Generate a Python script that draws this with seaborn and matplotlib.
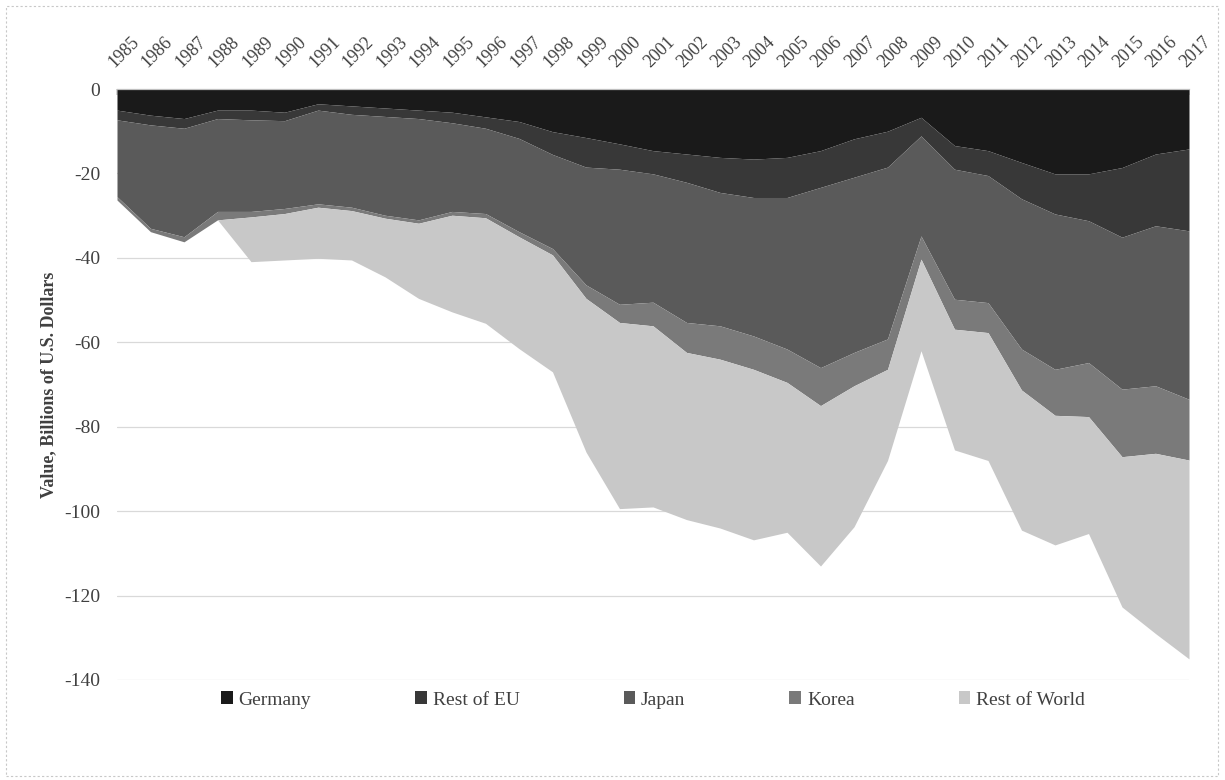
import numpy as np
import pandas as pd
import matplotlib
matplotlib.use("Agg")
import matplotlib.pyplot as plt
import seaborn as sns
from matplotlib.patches import Rectangle

years = list(range(1985, 2018))
series_names = ["Germany", "Rest of EU", "Japan", "Korea", "Rest of World"]

# billions of U.S. dollars
germany = [-5.0, -6.2, -7.0, -5.0, -5.0, -5.5, -3.5, -4.0, -4.5, -5.0, -5.5,
           -6.6, -7.7, -10.1, -11.5, -13.0, -14.6, -15.4, -16.2, -16.6, -16.2,
           -14.6, -11.8, -10.0, -6.7, -13.4, -14.6, -17.4, -20.1, -20.1, -18.6,
           -15.4, -14.2]
rest_of_eu = [-2.3, -2.3, -2.3, -2.0, -2.3, -2.0, -1.5, -2.0, -2.0, -2.0, -2.5,
              -2.7, -4.0, -5.4, -7.0, -6.0, -5.5, -6.7, -8.3, -9.1, -9.5,
              -8.7, -9.1, -8.5, -4.4, -5.6, -5.9, -8.6, -9.5, -11.1, -16.5,
              -17.0, -19.4]
japan = [-18.2, -24.5, -25.7, -22.0, -21.7, -20.8, -22.2, -22.0, -23.4, -24.0,
         -21.0, -20.2, -22.1, -22.3, -27.9, -32.0, -30.4, -33.2, -31.6, -32.8,
         -35.9, -42.7, -41.5, -40.7, -23.7, -30.8, -30.1, -35.6, -36.8, -33.6,
         -36.0, -37.9, -39.9]
korea = [-0.8, -0.8, -1.2, -2.0, -1.3, -1.2, -0.8, -0.8, -0.7, -0.8, -0.9,
         -1.0, -1.2, -1.5, -3.2, -4.3, -5.6, -7.1, -7.9, -7.9, -7.9, -9.0,
         -7.9, -7.2, -5.5, -7.1, -7.1, -9.7, -10.9, -12.8, -16.0, -16.0, -14.4]
rest_of_world = [0.0, 0.0, 0.0, 0.0, -10.6, -11.0, -12.1, -11.7, -13.9, -17.8,
                 -22.9, -25.0, -26.5, -27.7, -36.4, -44.1, -42.9, -39.6, -40.0,
                 -40.4, -35.5, -38.0, -33.4, -21.6, -21.7, -28.6, -30.3, -33.2,
                 -30.7, -27.7, -35.6, -42.7, -47.1]

y_ticks = [0, -20, -40, -60, -80, -100, -120, -140]
y_tick_labels = ["0", "-20", "-40", "-60", "-80", "-100", "-120", "-140"]

df = pd.DataFrame({"Germany": germany, "Rest of EU": rest_of_eu, "Japan": japan,
                   "Korea": korea, "Rest of World": rest_of_world}, index=years)

sns.set_theme(style="white")
plt.rcParams["font.family"] = ["Liberation Serif", "DejaVu Serif"]

grays = ["#1a1a1a", "#383838", "#5a5a5a", "#7a7a7a", "#c8c8c8"]
text_col = "#404040"

fig = plt.figure(figsize=(12.25, 7.8), dpi=100)
ax = fig.add_axes([117 / 1225, 1 - 680 / 780, (1189 - 117) / 1225, (680 - 89) / 780])

ax.stackplot(df.index, [df[c] for c in series_names], colors=grays,
             labels=series_names, linewidth=0, zorder=2)

ax.set_xlim(years[0], years[-1])
ax.set_ylim(-140, 0)
ax.set_yticks(y_ticks)
ax.set_yticklabels(y_tick_labels, fontsize=14, color=text_col)
ax.yaxis.grid(True, color="#d9d9d9", linewidth=0.9, zorder=0)
ax.set_axisbelow(True)

ax.xaxis.tick_top()
ax.set_xticks(years)
ax.set_xticklabels([str(y) for y in years], rotation=45, ha="left", va="bottom",
                   rotation_mode="anchor", fontsize=13, color=text_col)
ax.tick_params(axis="x", direction="in", length=4, color="#d0d0d0", pad=13)
ax.tick_params(axis="y", length=0, pad=12)

for side in ["left", "right", "bottom"]:
    ax.spines[side].set_visible(False)
ax.spines["top"].set_color("#bfbfbf")
ax.spines["top"].set_linewidth(0.9)
ax.spines["top"].set_zorder(3)

ax.set_ylabel("Value, Billions of U.S. Dollars", fontsize=13, fontweight="bold",
              color=text_col, labelpad=5)

handles, labels = ax.get_legend_handles_labels()
fig.legend(handles, labels, loc="center", bbox_to_anchor=(653 / 1225, 1 - 700 / 780),
           ncol=5, frameon=False, fontsize=14, handlelength=0.6, handleheight=0.6,
           handletextpad=0.3, columnspacing=5.35, labelcolor=text_col)

fig.patches.append(Rectangle((6 / 1225, 4 / 780), 1212 / 1225, 770 / 780,
                             transform=fig.transFigure, fill=False,
                             edgecolor="#c8c8c8", linewidth=0.8, linestyle=(0, (2, 2))))

fig.savefig("out.png", dpi=100)
